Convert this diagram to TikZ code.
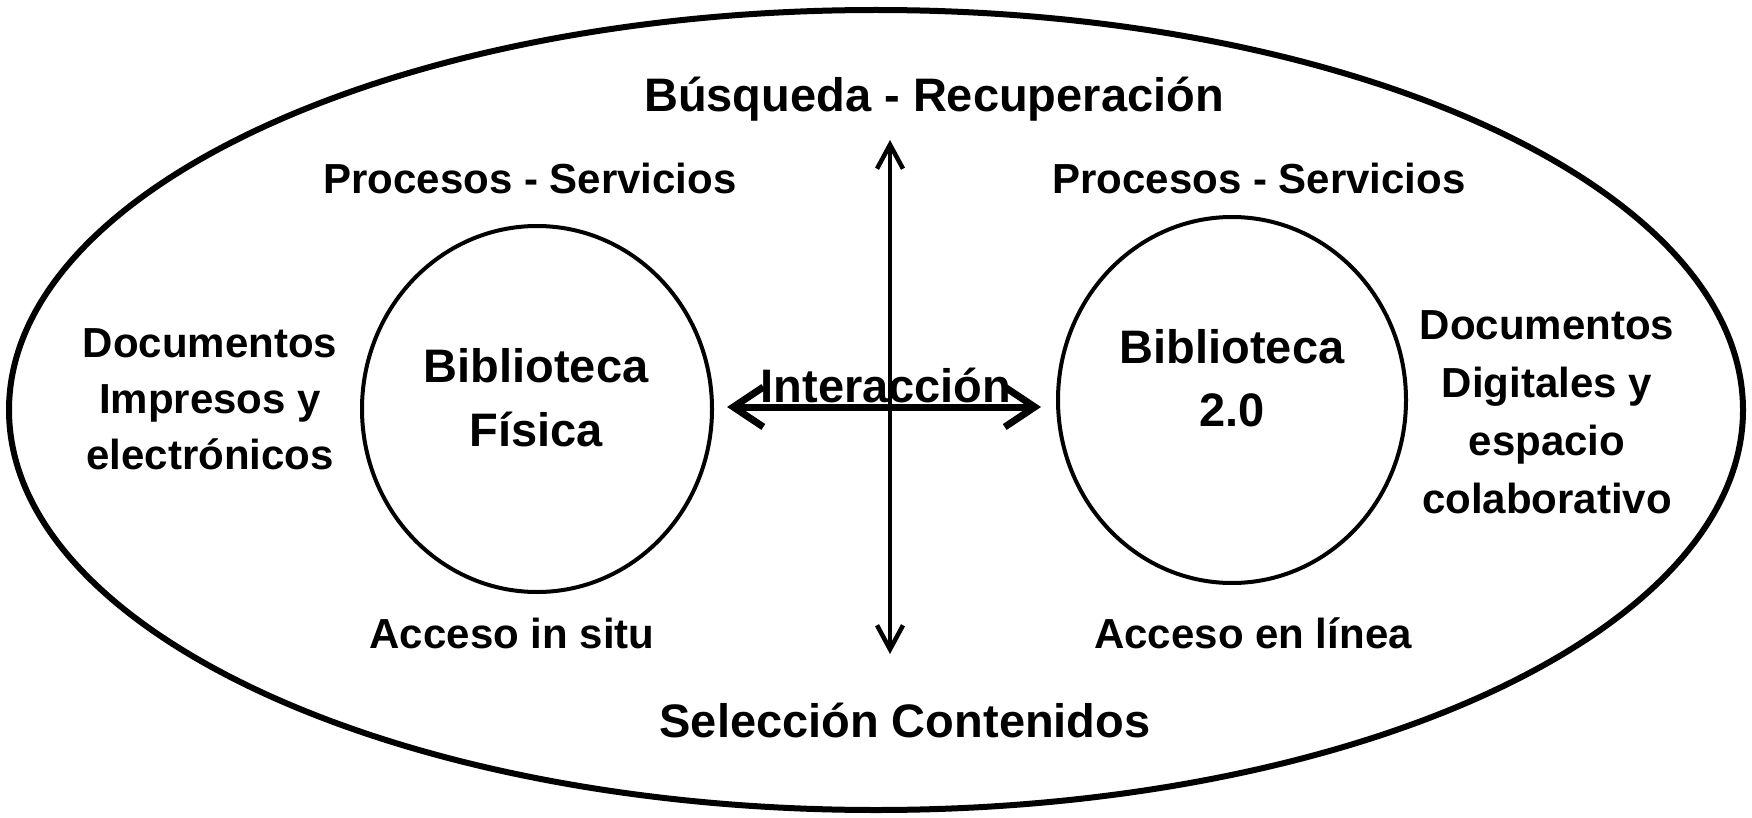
\documentclass[tikz,border=0pt]{standalone}
\usepackage{fontspec}
\setmainfont{Liberation Sans}
\usetikzlibrary{shapes.geometric,arrows.meta}
\tikzset{
  big/.style={font=\bfseries\fontsize{47}{64}\selectfont, inner sep=0pt, align=center},
  small/.style={font=\bfseries\fontsize{42}{56}\selectfont, inner sep=0pt, align=center},
  ring/.style={draw, ellipse, line width=4pt, inner sep=0pt},
}
\begin{document}
\begin{tikzpicture}[x=1pt,y=-1pt]
\useasboundingbox (0,0) rectangle (1752,818);
\node[draw, ellipse, line width=6pt, minimum width=1734pt, minimum height=800pt] (outer) at (876,410) {};
\node[ring, minimum width=350pt, minimum height=366pt] (lc) at (537,409) {};
\node[ring, minimum width=348pt, minimum height=366pt] (rc) at (1232,400) {};

\node[big, anchor=base] (busq) at (934,112) {Búsqueda - Recuperación};
\node[small, anchor=base] (procl) at (530,194) {Procesos - Servicios};
\node[small, anchor=base] (procr) at (1259,194) {Procesos - Servicios};
\node[small] (docl) at (210,399) {Documentos\\Impresos y\\electrónicos};
\node[small, font=\bfseries\fontsize{42}{58}\selectfont] (docr) at (1547,412) {Documentos\\Digitales y\\espacio\\colaborativo};
\node[big] (bf) at (536,398) {Biblioteca\\Física};
\node[big, font=\bfseries\fontsize{47}{63}\selectfont] (b2) at (1232,378) {Biblioteca\\2.0};
\node[big, anchor=base] (inter) at (886,402) {Interacción};
\node[small, anchor=base] (accl) at (512,648) {Acceso in situ};
\node[small, anchor=base] (accr) at (1253,648) {Acceso en línea};
\node[big, anchor=base] (sel) at (905,737) {Selección Contenidos};

\coordinate (vt) at (890,140);
\coordinate (vb) at (890,654);
\draw[line width=4.5pt, {Straight Barb[length=24pt,width=26pt]}-{Straight Barb[length=24pt,width=26pt]}] (vt) -- (vb);
\coordinate (hl) at (727,407);
\coordinate (hr) at (1041,407);
\draw[line width=7pt, {Straight Barb[length=30pt,width=40pt]}-{Straight Barb[length=30pt,width=40pt]}] (hl) -- (hr);
\end{tikzpicture}
\end{document}
